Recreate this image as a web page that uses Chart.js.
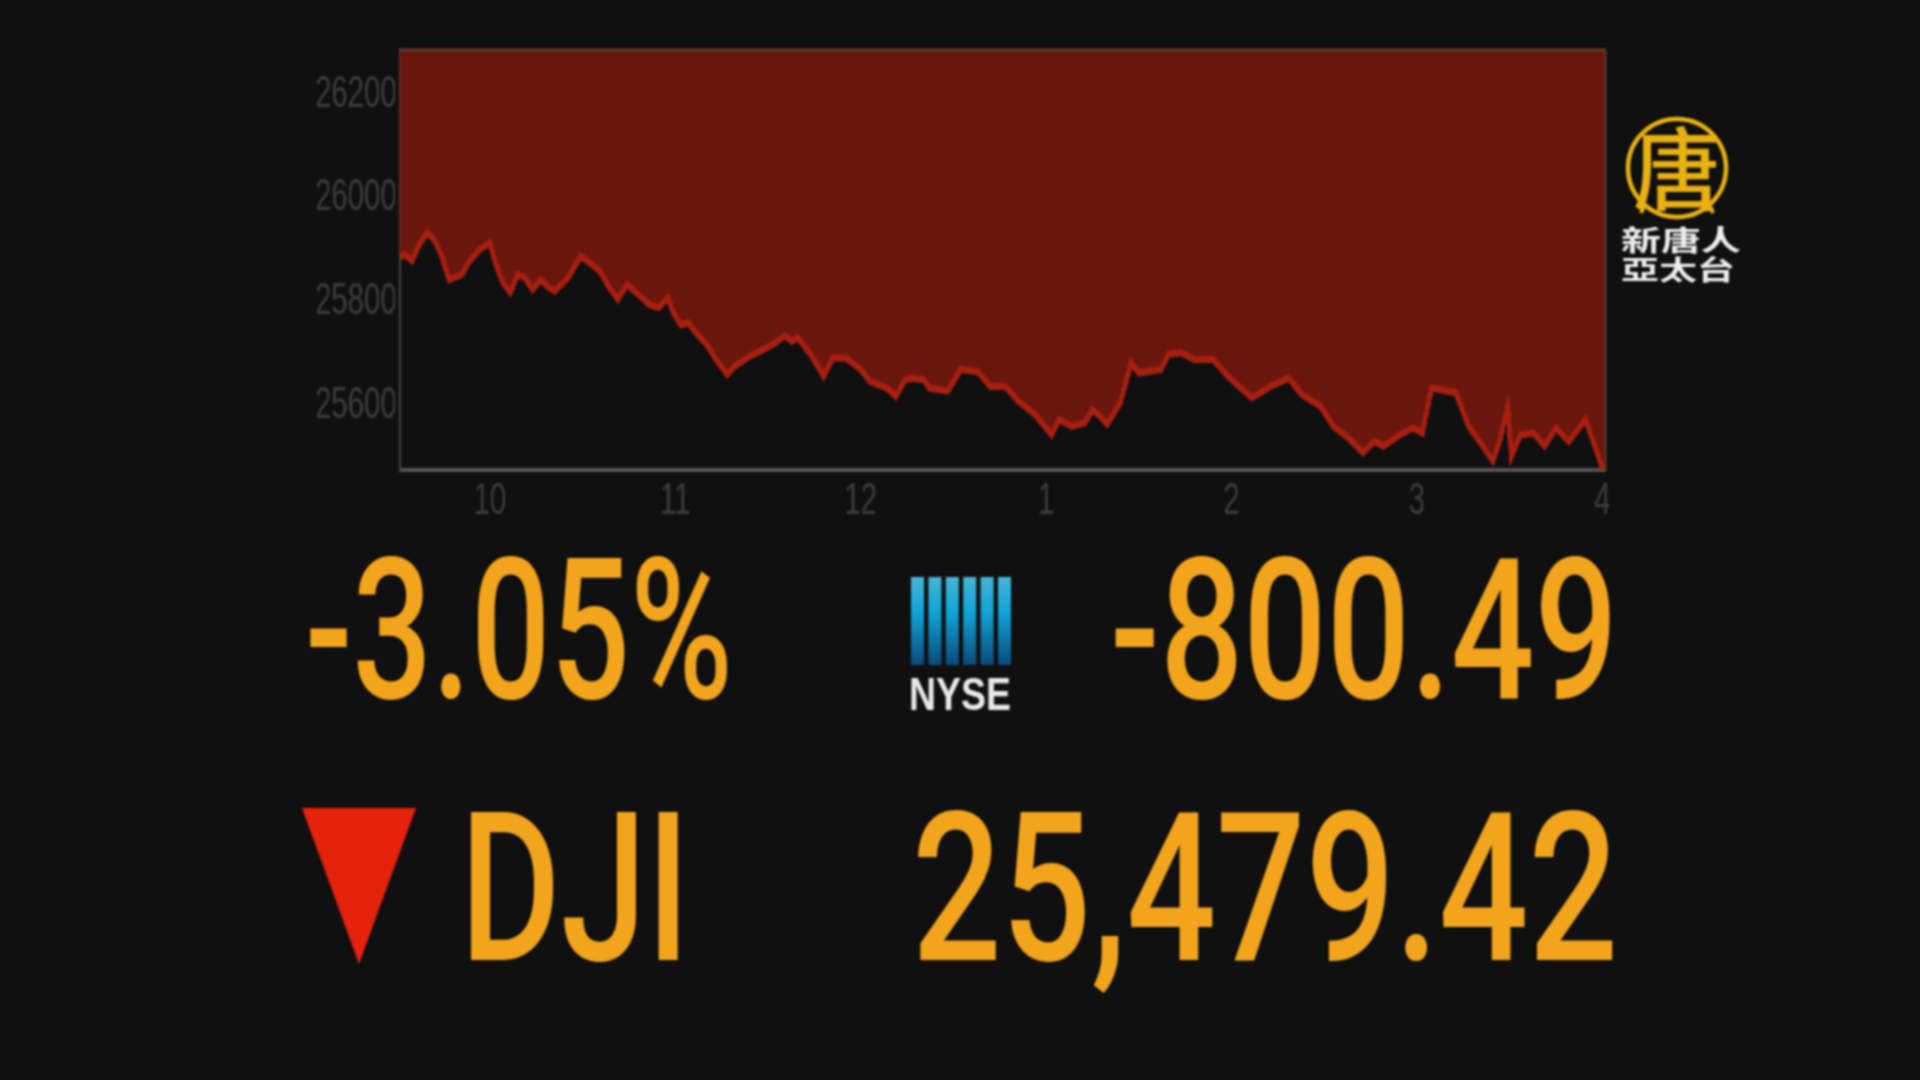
<!DOCTYPE html>
<html>
<head>
<meta charset="utf-8">
<title>DJI</title>
<script src="https://cdn.jsdelivr.net/npm/chart.js@4"></script>
<style>
    html, body { margin: 0; width: 1920px; height: 1080px; background: #101010; overflow: hidden; }
    #stage { position: absolute; left: 0; top: 0; width: 1920px; height: 1080px; filter: blur(0.8px); }
    /* the source video is squeezed sideways, so the chart is drawn wide and narrowed */
    #chartBox { position: absolute; left: 0; top: 0; width: 2880px; height: 1080px; transform: scaleX(0.6667); transform-origin: 0 0; }
    #overlay { position: absolute; left: 0; top: 0; }
</style>
</head>
<body>
<div id="stage">
    <div id="chartBox"><canvas id="dowChart" width="2880" height="1080"></canvas></div>
    <svg id="overlay" width="1920" height="1080" xmlns="http://www.w3.org/2000/svg">
        <defs>
            <linearGradient id="nyseBlue" x1="0" y1="0" x2="0" y2="1">
                <stop offset="0" stop-color="#48b4d8"/>
                <stop offset="0.4" stop-color="#10a4d8"/>
                <stop offset="1" stop-color="#0b4a78"/>
            </linearGradient>
        </defs>
        <g id="nyseBars" fill="url(#nyseBlue)"></g>
        <text x="909" y="710" textLength="102" lengthAdjust="spacingAndGlyphs" font-family="Liberation Sans" font-weight="700" font-size="46" fill="#e8e8e8">NYSE</text>

        <polygon points="302,808 416,808 359,964" fill="#e5220c"/>

        <g font-family="Roboto" font-weight="500" fill="#f2a51c">
            <text x="305" y="698" textLength="428" lengthAdjust="spacingAndGlyphs" font-size="197">-3.05%</text>
            <text x="1110" y="698" textLength="508" lengthAdjust="spacingAndGlyphs" font-size="197">-800.49</text>
            <text x="460" y="960" textLength="230" lengthAdjust="spacingAndGlyphs" font-size="207">DJI</text>
            <text x="912" y="960" textLength="706" lengthAdjust="spacingAndGlyphs" font-size="207">25,479.42</text>
        </g>

        <circle cx="1677" cy="168" r="49" fill="none" stroke="#e8b010" stroke-width="4.5"/>
        <text x="1633" y="203" textLength="88" lengthAdjust="spacingAndGlyphs" font-family="Noto Sans CJK TC" font-weight="500" font-size="90" fill="#e8b010">唐</text>
        <path d="M1644 206 L1641 213 M1710 206 L1713 213" stroke="#e8b010" stroke-width="4" fill="none"/>
        <g font-family="Noto Sans CJK TC" font-weight="700" fill="#eeeeee">
            <text x="1621" y="0" textLength="120" lengthAdjust="spacingAndGlyphs" font-size="40" transform="translate(0,251) scale(1,0.72)">新唐人</text>
            <text x="1621" y="0" textLength="114" lengthAdjust="spacingAndGlyphs" font-size="38" transform="translate(0,280) scale(1,0.72)">亞太台</text>
        </g>
    </svg>
</div>

<script>
/* =========================
   DATA
========================= */

const hours = [
    9.515, 9.54, 9.58, 9.615, 9.66, 9.70, 9.74, 9.78, 9.85, 9.89, 9.945,
    10.00, 10.03, 10.07, 10.11, 10.15, 10.19, 10.23, 10.275, 10.31, 10.35, 10.42, 10.49,
    10.54, 10.595, 10.64, 10.69, 10.74, 10.79, 10.86, 10.91, 10.96, 10.99,
    11.03, 11.07, 11.12, 11.17, 11.22, 11.28, 11.32, 11.40, 11.49, 11.54, 11.59, 11.63, 11.66,
    11.73, 11.80, 11.85, 11.92, 12.00, 12.05, 12.14, 12.19, 12.24, 12.28, 12.34,
    12.37, 12.47, 12.54, 12.63, 12.70, 12.78, 12.85, 12.94,
    13.03, 13.07, 13.14, 13.21, 13.25, 13.29, 13.33, 13.40, 13.46, 13.50, 13.62, 13.66,
    13.73, 13.80, 13.90, 13.98, 14.05, 14.11, 14.21, 14.31, 14.38, 14.48, 14.55, 14.63,
    14.71, 14.77, 14.82, 14.91, 14.98, 15.03, 15.08, 15.21, 15.28, 15.35, 15.41, 15.45,
    15.49, 15.51, 15.56, 15.63, 15.69, 15.75, 15.82, 15.91, 15.96, 16.00, 16.017
];

const dowValues = [
    25880, 25886, 25873, 25902, 25927, 25914, 25882, 25837, 25847, 25873, 25895,
    25908, 25869, 25831, 25812, 25847, 25840, 25818, 25837, 25824, 25815, 25840, 25882,
    25869, 25853, 25824, 25799, 25828, 25812, 25789, 25783, 25802, 25773,
    25750, 25754, 25731, 25712, 25683, 25654, 25670, 25689, 25705, 25715, 25729, 25718, 25725,
    25693, 25651, 25686, 25686, 25664, 25641, 25628, 25612, 25644, 25647, 25644,
    25628, 25622, 25664, 25660, 25631, 25631, 25603, 25577,
    25538, 25567, 25554, 25561, 25586, 25574, 25558, 25599, 25676, 25657, 25664, 25693,
    25696, 25683, 25683, 25651, 25628, 25609, 25631, 25647, 25615, 25593, 25554, 25532,
    25503, 25525, 25516, 25538, 25551, 25541, 25628, 25619, 25554, 25519, 25487, 25529,
    25590, 25496, 25538, 25541, 25516, 25551, 25525, 25567, 25516, 25474, 25470
];

const hourLabels = { 10: "10", 11: "11", 12: "12", 13: "1", 14: "2", 15: "3", 16: "4" };
const priceTicks = [25600, 25800, 26000, 26200];

/* =========================
   NYSE BARS
========================= */

const nyseBars = document.getElementById("nyseBars");
[0, 1, 2, 3, 4, 5].forEach(i => {
    const bar = document.createElementNS("http://www.w3.org/2000/svg", "rect");
    bar.setAttribute("x", 911 + i * 17.4);
    bar.setAttribute("y", 577);
    bar.setAttribute("width", 13);
    bar.setAttribute("height", 88);
    nyseBars.appendChild(bar);
});

/* =========================
   CHART.JS RENDERING
========================= */

const tickFont = { family: "Liberation Sans", size: 44 };

// faint edge along the top and right of the plot
const plotEdge = {
    id: "plotEdge",
    afterDatasetsDraw(chart) {
        const { ctx, chartArea: a } = chart;
        ctx.save();
        ctx.strokeStyle = "#5e3a32";
        ctx.lineWidth = 3;
        ctx.beginPath();
        ctx.moveTo(a.left, a.top);
        ctx.lineTo(a.right, a.top);
        ctx.lineTo(a.right, a.bottom);
        ctx.stroke();
        ctx.restore();
    }
};

new Chart(document.getElementById("dowChart"), {
    type: "line",
    data: {
        datasets: [{
            data: hours.map((h, i) => ({ x: h, y: dowValues[i] })),
            borderColor: "#a81f10",
            borderWidth: 7,
            backgroundColor: "#6b170d",
            fill: "end",
            pointRadius: 0,
            tension: 0
        }]
    },
    plugins: [plotEdge],
    options: {
        responsive: false,
        animation: false,
        layout: { padding: { top: 50, right: 472, left: 0, bottom: 0 } },
        plugins: { legend: { display: false }, tooltip: { enabled: false } },
        scales: {
            x: {
                type: "linear",
                min: 9.515,
                max: 16.017,
                grid: { display: false },
                border: { color: "#555555", width: 4 },
                afterFit: s => { s.height = 610; },
                ticks: {
                    stepSize: 1,
                    includeBounds: false,
                    autoSkip: false,
                    maxRotation: 0,
                    padding: -3,
                    color: "#3c3c3c",
                    font: tickFont,
                    callback: v => hourLabels[v] || ""
                }
            },
            y: {
                min: 25470,
                max: 26280,
                grid: { display: false },
                border: { color: "#444444", width: 4 },
                afterFit: s => { s.width = 600; },
                afterBuildTicks: s => { s.ticks = priceTicks.map(v => ({ value: v })); },
                ticks: {
                    padding: -3,
                    labelOffset: 3,
                    color: "#3c3c3c",
                    font: tickFont,
                    callback: v => String(v)
                }
            }
        }
    }
});
</script>
</body>
</html>
